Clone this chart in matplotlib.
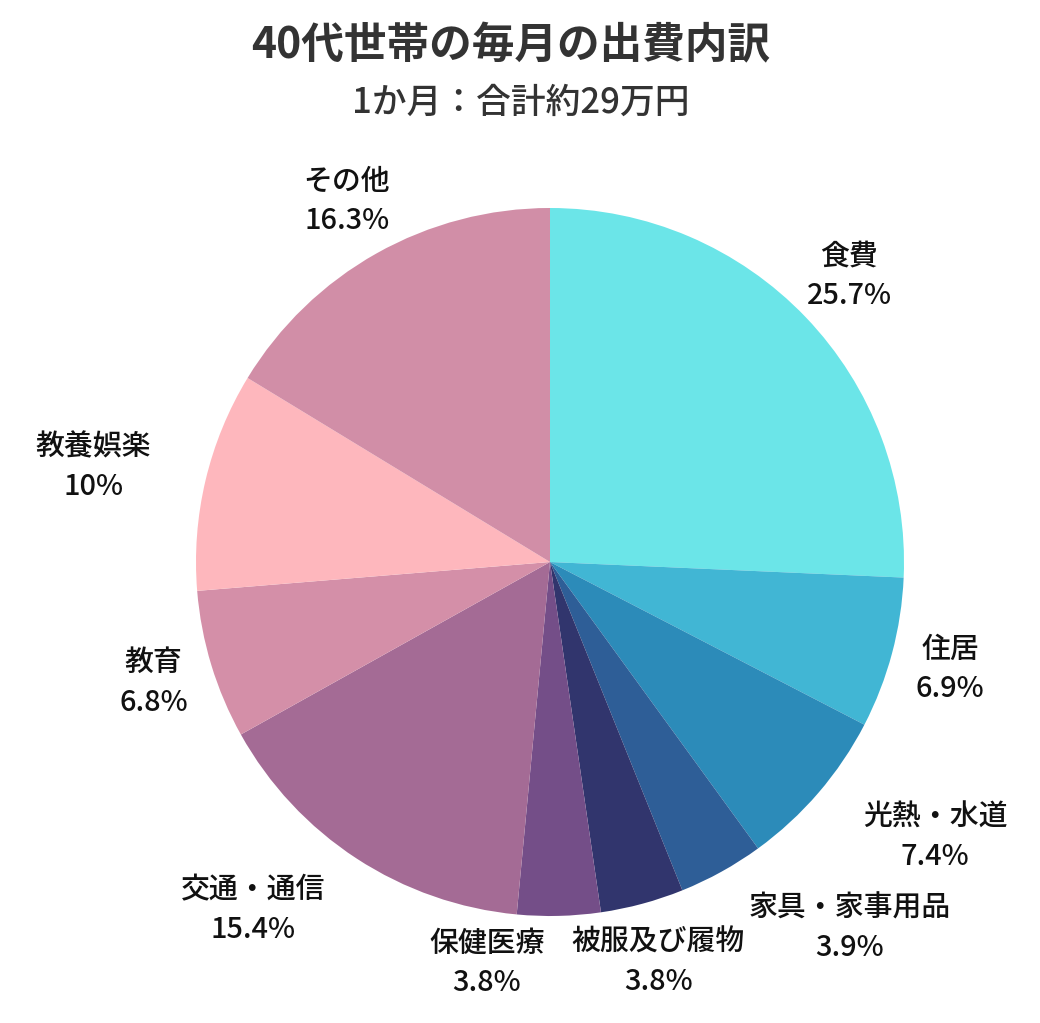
import numpy as np
import matplotlib
matplotlib.use('Agg')
import matplotlib.pyplot as plt

plt.rcParams['font.family'] = ['Noto Sans CJK JP', 'DejaVu Sans']

'''
# data
'''
categories = ['食費', '住居', '光熱・水道', '家具・家事用品', '被服及び履物',
              '保健医療', '交通・通信', '教育', '教養娯楽', 'その他']
shares = [25.7, 6.9, 7.4, 3.9, 3.8, 3.8, 15.4, 6.8, 10, 16.3]
share_labels = ['25.7%', '6.9%', '7.4%', '3.9%', '3.8%',
                '3.8%', '15.4%', '6.8%', '10%', '16.3%']
colors = ['#6be5e8', '#41b6d4', '#2c8bb9', '#2e5e97', '#31356d',
          '#744e88', '#a46b95', '#d48fa8', '#feb7bd', '#d18ea7']

title = '40代世帯の毎月の出費内訳'
subtitle = '1か月：合計約29万円'

# label placement (radius units), None -> default on mid angle
LabelDist = 1.17
label_pos = {'教養娯楽': (-1.29, 0.27),
             '光熱・水道': (1.088, -0.777),
             '交通・通信': (-0.839, -0.983),
             '家具・家事用品': (0.847, -1.034),
             '保健医療': (-0.178, -1.133)}


def show_pie():
    W, H = 1040, 1023
    CX, CY, R = 550, 562, 354

    fig = plt.figure(figsize=(W/100, H/100), dpi=100)
    ax = fig.add_axes([0, 0, 1, 1])

    wedges, _ = ax.pie(shares, colors=colors, startangle=90, counterclock=False,
                       radius=1.0, wedgeprops=dict(linewidth=0))

    # map pixels -> data so the pie sits where the reference has it
    ax.set_xlim(-CX/R, (W-CX)/R)
    ax.set_ylim(-(H-CY)/R, CY/R)
    ax.set_aspect('auto')
    ax.axis('off')

    for w, name, pct in zip(wedges, categories, share_labels):
        if name in label_pos:
            x, y = label_pos[name]
        else:
            ang = np.deg2rad((w.theta1 + w.theta2) / 2)
            x, y = LabelDist*np.cos(ang), LabelDist*np.sin(ang)
        ax.text(x, y, name + '\n' + pct, ha='center', va='center',
                fontsize=20.8, color='#111111', linespacing=1.45,
                fontweight='medium')

    fig.text(0.491, 1 - 45/H, title, ha='center', va='center',
             fontsize=30.7, fontweight='bold', color='#333333')
    fig.text(0.501, 1 - 103/H, subtitle, ha='center', va='center',
             fontsize=25, color='#333333', fontweight='medium')

    fig.savefig('out.png', dpi=100)
    return 0


if __name__ == '__main__':
    show_pie()
